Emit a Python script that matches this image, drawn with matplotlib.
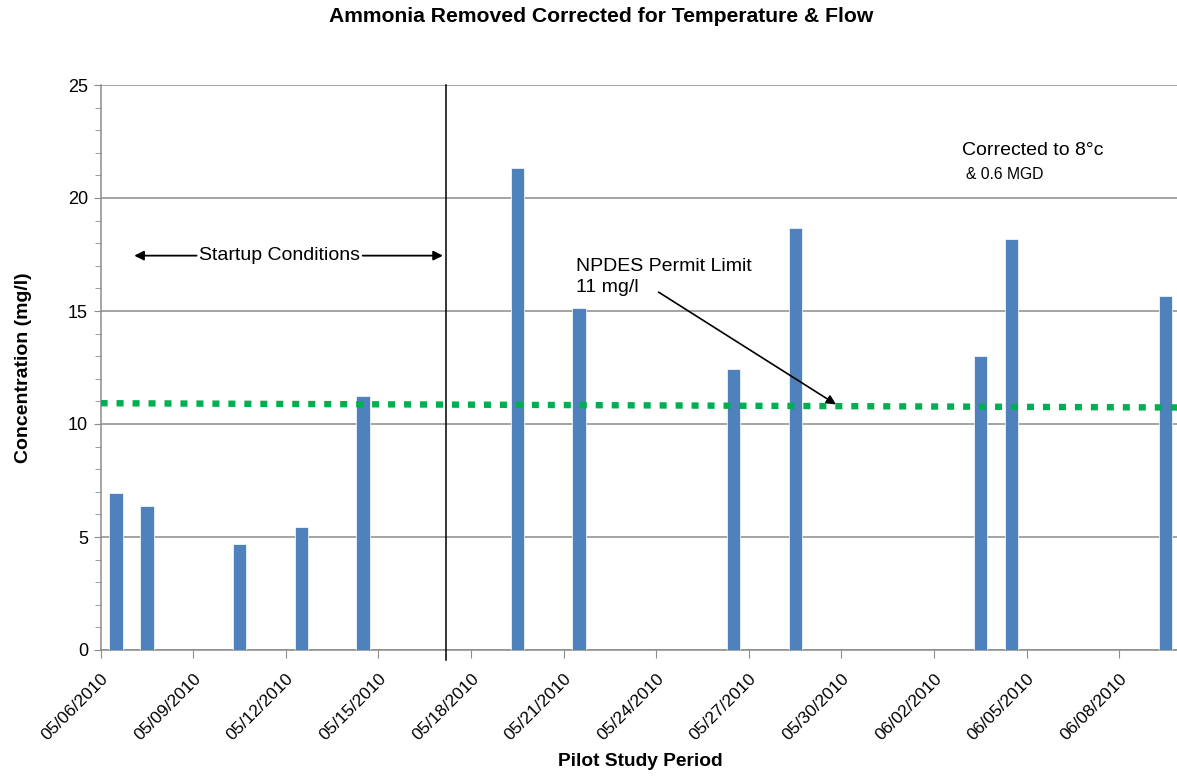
import datetime as dt
import matplotlib
matplotlib.use("Agg")
import matplotlib.pyplot as plt
import matplotlib.dates as mdates
from matplotlib.transforms import ScaledTranslation

plt.rcParams['font.family'] = ['Liberation Sans', 'DejaVu Sans']

# sample dates and ammonia removed (mg/l)
sample_dates = ["05/06/2010", "05/07/2010", "05/10/2010", "05/12/2010", "05/14/2010",
                "05/19/2010", "05/21/2010", "05/26/2010", "05/28/2010", "06/03/2010",
                "06/04/2010", "06/09/2010"]
ammonia = [6.95, 6.36, 4.69, 5.45, 11.25, 21.31, 15.13, 12.45, 18.67, 13.0, 18.18, 15.66]

# permit limit line (drawn as a slightly sloped trend in the original)
limit_dates = ["05/06/2010", "06/10/2010"]
limit_vals = [10.92, 10.73]

start = dt.datetime(2010, 5, 6)
end_of_startup = 11.18  # days after start

def d(s):
    return mdates.date2num(dt.datetime.strptime(s, "%m/%d/%Y"))

x0 = mdates.date2num(start)

fig = plt.figure(figsize=(11.77, 7.76), dpi=100)
ax = fig.add_axes([100.6 / 1177, 1 - 650 / 776, 1 - 100.6 / 1177, (650 - 85) / 776])

xs = [d(s) + 0.5 for s in sample_dates]
ax.bar(xs, ammonia, width=0.43, color="#4F81BD", edgecolor="white", linewidth=0.5, zorder=3)

ax.plot([d(s) for s in limit_dates], limit_vals, color="#00B050", linewidth=4.6,
        linestyle=(0, (1.1, 1.4)), dash_capstyle="butt", zorder=4)

ax.set_xlim(x0, x0 + 34.87)
ax.set_ylim(0, 25)
ax.set_yticks(range(0, 26, 5))
ax.set_yticks(range(0, 26, 1), minor=True)
ax.yaxis.grid(True, color="#8c8c8c", linewidth=1.1, zorder=0)

xt = [x0 + 3 * i for i in range(12)]
ax.set_xticks(xt)
ax.set_xticklabels([mdates.num2date(t).strftime("%m/%d/%Y") for t in xt],
                   rotation=45, ha="right", rotation_mode="anchor", fontsize=12.5)
shift = ScaledTranslation(6 / 100, 0, fig.dpi_scale_trans)
for lab in ax.get_xticklabels():
    lab.set_transform(lab.get_transform() + shift)
ax.tick_params(axis="y", labelsize=13, length=5, color="#8c8c8c", pad=4)
ax.tick_params(axis="y", which="minor", length=4, color="#8c8c8c")
ax.tick_params(axis="x", length=6, color="#8c8c8c", pad=9)

for s in ["top", "right"]:
    ax.spines[s].set_visible(False)
for s in ["left", "bottom"]:
    ax.spines[s].set_color("#8c8c8c")
    ax.spines[s].set_linewidth(1.1)

# end of startup period
ax.plot([x0 + end_of_startup] * 2, [-0.45, 25], color="black", linewidth=1.1,
        clip_on=False, zorder=5)

ax.annotate("", xy=(x0 + 1.0, 17.45), xytext=(x0 + 3.2, 17.45),
            arrowprops=dict(arrowstyle="-|>", color="black", lw=1.3, mutation_scale=14))
ax.annotate("", xy=(x0 + end_of_startup, 17.45), xytext=(x0 + 8.4, 17.45),
            arrowprops=dict(arrowstyle="-|>", color="black", lw=1.3, mutation_scale=14))
ax.text(x0 + 3.2, 17.45, "Startup Conditions", fontsize=14, va="center", ha="left")

ax.text(x0 + 15.4, 15.65, "NPDES Permit Limit\n11 mg/l", fontsize=14, va="bottom",
        ha="left", linespacing=1.3)
ax.annotate("", xy=(x0 + 23.9, 10.8), xytext=(x0 + 18.0, 15.9),
            arrowprops=dict(arrowstyle="-|>", color="black", lw=1.2, mutation_scale=14))

ax.text(x0 + 27.9, 22.1, "Corrected to 8°c", fontsize=14, va="center", ha="left")
ax.text(x0 + 28.05, 21.05, "& 0.6 MGD", fontsize=11.3, va="center", ha="left")

fig.text(0.511, 1 - 17 / 776, "Ammonia Removed Corrected for Temperature & Flow",
         fontsize=15.2, fontweight="bold", ha="center", va="center")
ax.set_ylabel("Concentration (mg/l)", fontsize=14, fontweight="bold", labelpad=26)
fig.text(640 / 1177, 1 - 762 / 776, "Pilot Study Period", fontsize=13.8,
         fontweight="bold", ha="center", va="center")

fig.savefig("out.png", dpi=100)
